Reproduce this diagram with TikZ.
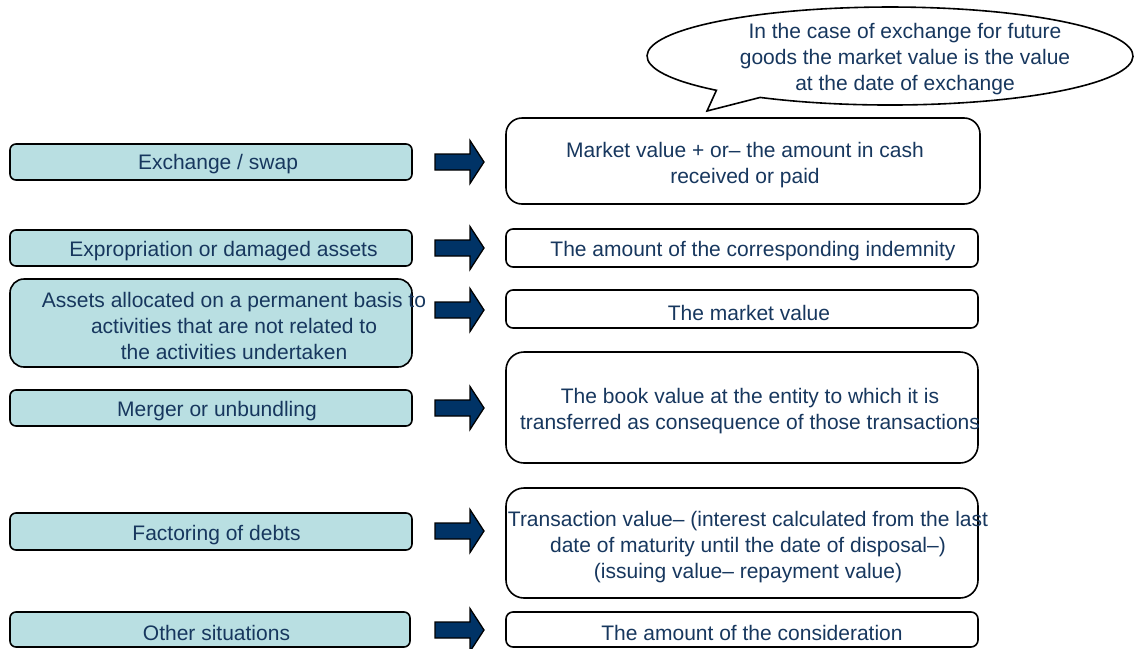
\documentclass[tikz,border=0pt]{standalone}
\usepackage{fontspec}
\setmainfont{Liberation Sans}
\definecolor{textblue}{HTML}{17375E}
\definecolor{navy}{HTML}{003366}
\definecolor{tealfill}{HTML}{B9DFE2}
\begin{document}
\begin{tikzpicture}[x=1pt,y=-1pt,
  txt/.style={text=textblue, font=\fontsize{21}{26}\selectfont, align=center, inner sep=0pt, yshift=-2pt},
  lbox/.style={draw=black, line width=1.6pt, fill=tealfill, rounded corners=6pt, inner sep=0pt, minimum width=402pt, minimum height=36pt},
  rbox/.style={draw=black, line width=1.6pt, fill=white, rounded corners=7pt, inner sep=0pt, minimum width=472pt, minimum height=38pt},
  calloutline/.style={draw=black, line width=1.6pt, fill=white},
  barrow/.pic={\draw[fill=navy, line width=1.3pt, line join=miter]
     (-24.5,-8) -- (10.5,-8) -- (10.5,-21.5) -- (24.5,0) -- (10.5,21.5) -- (10.5,8) -- (-24.5,8) -- cycle;}]
\useasboundingbox (0,0) rectangle (1134,648);

% callout
\draw[calloutline] (707,111) -- (716.4,90.3)
   arc[start angle=135.6, end angle=482.3, x radius=243, y radius=49] -- cycle;
\node[txt] (note) at (905,57.5) {In the case of exchange for future\\goods the market value is the value\\at the date of exchange};

% left boxes
\node[lbox] (L1) at (211,162) {};
\node[lbox] (L2) at (211,248) {};
\node[lbox, minimum height=88pt, rounded corners=14pt] (L3) at (211,323) {};
\node[lbox] (L4) at (211,408) {};
\node[lbox, minimum height=37pt] (L5) at (211,531.5) {};
\node[lbox, minimum width=400pt, minimum height=35pt] (L6) at (210,629.5) {};

\node[txt] (l1) at (218,162) {Exchange / swap};
\node[txt] (l2) at (223.5,249) {Expropriation or damaged assets};
\node[txt] (l3) at (234,324) {Assets allocated on a permanent basis to\\activities that are not related to\\the activities undertaken};
\node[txt] (l4) at (217,409) {Merger or unbundling};
\node[txt] (l5) at (216.5,533) {Factoring of debts};
\node[txt] (l6) at (216.5,631) {Other situations};

% right boxes
\node[rbox, minimum width=474pt, minimum height=86pt, rounded corners=16pt] (R1) at (743,161) {};
\node[rbox] (R2) at (742,248) {};
\node[rbox] (R3) at (742,309) {};
\node[rbox, minimum height=111pt, rounded corners=18pt] (R4) at (742,407.5) {};
\node[rbox, minimum height=110pt, rounded corners=18pt] (R5) at (742,543) {};
\node[rbox, minimum height=35pt] (R6) at (742,629.5) {};

\node[txt] (r1) at (745,163) {Market value + or– the amount in cash\\received or paid};
\node[txt] (r2) at (753,249) {The amount of the corresponding indemnity};
\node[txt] (r3) at (749,311) {The market value};
\node[txt] (r4) at (750,409) {The book value at the entity to which it is\\transferred as consequence of those transactions};
\node[txt] (r5) at (748,545) {Transaction value– (interest calculated from the last\\date of maturity until the date of disposal–)\\(issuing value– repayment value)};
\node[txt] (r6) at (752,631) {The amount of the consideration};

% block arrows
\pic (A1) at (459.5,162) {barrow};
\pic (A2) at (459.5,248) {barrow};
\pic (A3) at (459.5,310) {barrow};
\pic (A4) at (459.5,408) {barrow};
\pic (A5) at (459.5,531) {barrow};
\pic (A6) at (459.5,630) {barrow};
\end{tikzpicture}
\end{document}
